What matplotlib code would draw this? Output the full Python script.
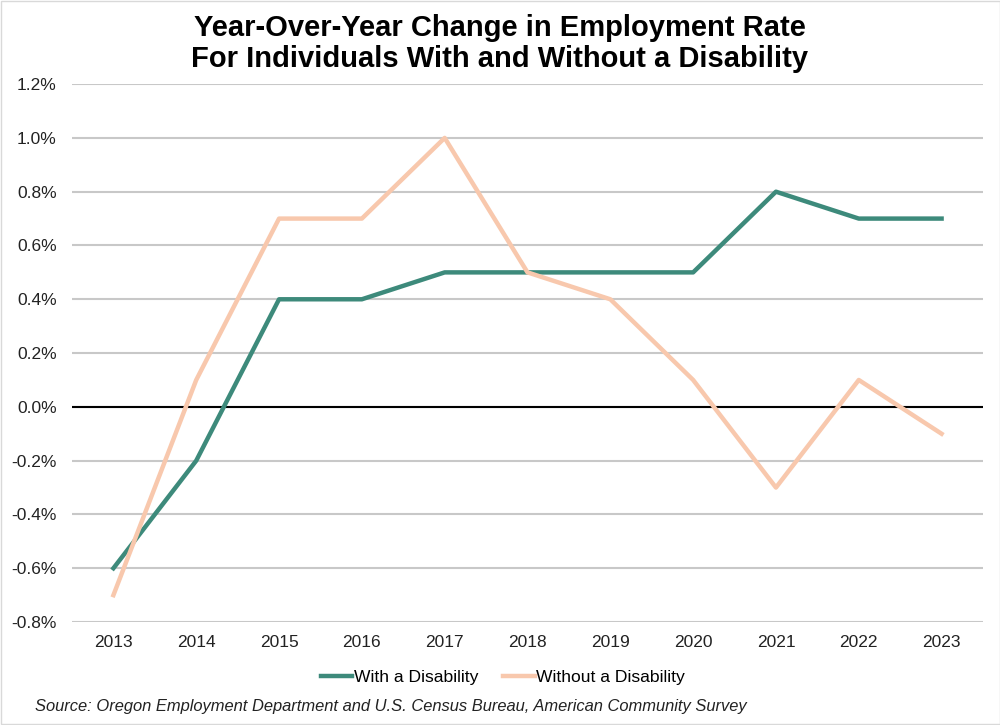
import matplotlib.pyplot as plt
from matplotlib.patches import Rectangle
from matplotlib.ticker import FuncFormatter

plt.rcParams['font.family'] = ['Liberation Sans', 'DejaVu Sans']

years = ['2013', '2014', '2015', '2016', '2017', '2018', '2019', '2020', '2021', '2022', '2023']
with_disability = [-0.6, -0.2, 0.4, 0.4, 0.5, 0.5, 0.5, 0.5, 0.8, 0.7, 0.7]
without_disability = [-0.7, 0.1, 0.7, 0.7, 1.0, 0.5, 0.4, 0.1, -0.3, 0.1, -0.1]

green = '#3d8a7b'
peach = '#f8c8ad'

fig = plt.figure(figsize=(10, 7.25), dpi=100)
ax = fig.add_axes([0.072, 0.142, 0.911, 0.742])

x = range(len(years))
ax.plot(x, with_disability, color=green, lw=3.2, label='With a Disability', zorder=3)
ax.plot(x, without_disability, color=peach, lw=3.2, label='Without a Disability', zorder=3)

ax.set_xlim(-0.5, len(years) - 0.5)
ax.set_ylim(-0.8, 1.2)
ax.set_yticks([-0.8 + 0.2 * i for i in range(11)])
ax.yaxis.set_major_formatter(FuncFormatter(lambda v, p: '{:.1f}%'.format(v + 0.0)))
ax.set_xticks(list(x))
ax.set_xticklabels(years)
ax.tick_params(axis='both', length=0, labelsize=12.5, colors='#222222')
ax.tick_params(axis='y', pad=11)
ax.tick_params(axis='x', pad=9)
ax.grid(axis='y', color='#c8c8c8', lw=1.5)
ax.axhline(0, color='black', lw=1.5, zorder=2)
ax.set_axisbelow(True)
for s in ax.spines.values():
    s.set_visible(False)

fig.text(0.5, 0.94, 'Year-Over-Year Change in Employment Rate\nFor Individuals With and Without a Disability',
         ha='center', va='center', fontsize=21, fontweight='bold', linespacing=1.12)

fig.legend(*ax.get_legend_handles_labels(), loc='center', bbox_to_anchor=(0.503, 0.066), ncol=2,
           frameon=False, fontsize=12.6, handlelength=1.8, handletextpad=0.1, columnspacing=1.4)

fig.text(0.035, 0.02, 'Source: Oregon Employment Department and U.S. Census Bureau, American Community Survey',
         fontsize=11.9, style='italic', color='#222222')

# thin border round the whole picture
fig.add_artist(Rectangle((0.0005, 0.0007), 0.999, 0.9986, transform=fig.transFigure,
                         fill=False, edgecolor='#d9d9d9', lw=1))

fig.savefig('out.png', dpi=100)
